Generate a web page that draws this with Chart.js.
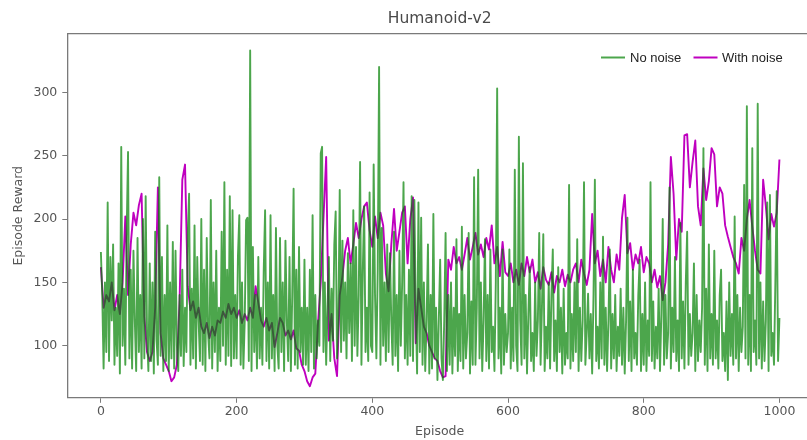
<!DOCTYPE html>
<html>
<head>
<meta charset="utf-8">
<script src="https://cdn.jsdelivr.net/npm/chart.js@4/dist/chart.umd.min.js"></script>
<style>
html,body{margin:0;padding:0;background:#fff;overflow:hidden}
#wrap{width:807px;height:440px;overflow:hidden;position:relative}
canvas{display:block}
</style>
</head>
<body>
<div id="wrap"><canvas id="c" width="812" height="440" style="width:812px;height:440px"></canvas></div>
<script>
// ---- data ----
const TITLE = 'Humanoid-v2';
const X_LABEL = 'Episode';
const Y_LABEL = 'Episode Reward';
const SERIES_NAMES = ['No noise', 'With noise'];
const NO_NOISE_STEP = 2;     // episodes between sampled points
const WITH_NOISE_STEP = 4;
const X_TICKS = [0, 200, 400, 600, 800, 1000];
const Y_TICKS = [100, 150, 200, 250, 300];

// No noise: one value every 2 episodes (0..1000)
const noNoise = [
  174,140,82,150,95,213,88,170,120,180,85,130,92,165,78,257,100,145,85,190,253,90,160,82,175,
  120,80,185,95,140,82,200,90,218,110,80,165,88,150,78,190,105,85,233,92,170,80,140,88,195,
  80,150,90,182,82,175,100,80,140,92,160,84,130,95,188,220,85,145,90,195,82,170,120,88,200,
  85,160,80,185,110,90,215,82,150,95,175,80,130,88,190,100,229,85,160,92,218,84,207,90,140,
  90,171,203,85,150,82,120,199,201,88,333,80,178,95,140,82,170,90,130,85,160,207,88,150,82,
  203,90,140,80,193,100,82,185,95,150,80,183,120,88,170,80,140,224,85,160,82,178,95,130,85,
  168,85,130,80,160,95,203,82,140,90,120,100,252,257,95,150,85,130,170,88,145,104,180,206,90,
  120,223,95,183,104,150,90,173,110,165,88,207,100,178,92,140,245,85,160,210,95,130,88,221,100,
  95,243,140,90,160,320,85,193,100,150,88,180,95,173,120,85,190,92,140,80,175,100,150,229,90,
  140,85,160,92,218,88,215,130,78,213,95,201,85,150,80,120,180,78,140,82,204,90,130,73,120,
  168,90,73,120,189,80,140,85,150,78,130,92,184,80,125,88,194,82,140,90,110,189,78,135,85,
  233,85,130,239,90,150,80,120,184,88,140,82,176,95,115,80,150,303,90,130,78,176,85,125,95,
  110,176,82,130,88,239,100,80,265,120,85,244,90,140,78,125,162,88,110,80,150,92,120,189,85,
  130,188,80,115,90,150,82,140,176,88,120,80,162,95,130,78,145,85,110,90,227,82,125,88,150,
  95,184,80,130,88,120,229,85,110,141,90,125,78,140,231,88,115,82,150,90,186,85,130,80,120,
  176,82,125,90,140,80,115,92,145,85,130,78,120,201,88,135,80,160,90,110,85,140,168,80,125,
  85,150,80,120,92,229,88,135,82,115,90,145,80,125,200,85,140,90,110,225,82,130,95,170,88,
  120,80,197,90,135,82,150,190,85,125,92,110,165,80,140,88,120,95,130,256,85,145,80,180,90,
  125,85,175,90,120,82,140,160,88,110,80,135,73,150,92,125,85,202,90,140,80,130,95,115,227,
  90,289,85,140,80,256,95,120,85,291,90,150,82,135,88,120,213,80,219,92,110,85,150,222,88,
  122
];

// With noise: one value every 4 episodes (0..1000)
const withNoise = [
  162,130,140,135,150,128,140,125,150,202,140,180,205,195,211,220,123,95,88,95,130,225,110,90,85,
  80,72,75,85,136,231,243,147,128,135,122,130,115,110,118,106,115,108,120,118,127,122,133,125,130,
  122,128,118,125,120,130,122,147,134,120,115,122,112,118,99,110,122,118,108,112,105,112,98,96,85,
  80,72,68,75,78,118,150,200,249,104,125,90,76,140,155,175,185,165,180,197,185,200,210,213,191,
  178,202,185,205,195,157,143,180,208,175,190,205,210,165,200,217,102,145,130,115,110,100,95,90,88,
  80,75,76,168,160,178,165,170,160,172,185,168,178,189,172,180,170,185,176,195,165,178,155,182,158,
  155,165,150,160,148,165,155,170,158,168,150,158,145,162,152,148,158,142,155,150,160,147,156,150,160,
  165,150,168,157,148,160,204,165,175,155,168,150,178,160,150,172,160,201,219,173,181,160,172,165,178,
  158,170,165,150,160,146,155,136,150,180,249,220,168,200,190,266,267,225,245,262,210,195,240,215,230,
  256,251,210,225,220,195,186,178,170,165,157,185,175,200,215,194,175,160,157,231,210,184,204,194,205,
  247
];

const noNoiseEpisodes = noNoise.map((_, i) => i * NO_NOISE_STEP);
const withNoiseEpisodes = withNoise.map((_, i) => i * WITH_NOISE_STEP);

// ---- styling ----
const GREEN = 'rgba(0,128,0,0.7)';
const MAGENTA = 'rgb(191,0,191)';
const AXIS_COLOR = '#7a7a7a';
const TEXT_COLOR = '#555555';
const FONT = 'DejaVu Sans';

const legendPlugin = {
  id: 'insideLegend',
  afterDraw(chart) {
    const ctx = chart.ctx;
    const items = [
      { x: 601, tx: 630 },
      { x: 693.5, tx: 722 }
    ];
    ctx.save();
    ctx.font = '13px "Liberation Sans", Arial, sans-serif';
    ctx.textBaseline = 'middle';
    ctx.textAlign = 'left';
    chart.data.datasets.forEach((ds, i) => {
      const it = items[i];
      const y = 57.5;
      ctx.strokeStyle = ds.borderColor;
      ctx.lineWidth = 2;
      ctx.beginPath();
      ctx.moveTo(it.x, y);
      ctx.lineTo(it.x + 24, y);
      ctx.stroke();
      ctx.fillStyle = '#222';
      ctx.fillText(ds.label, it.tx, y + 0.5);
    });
    ctx.restore();
  }
};

const tickFont = { family: FONT, size: 12.5 };

new Chart(document.getElementById('c'), {
  type: 'line',
  data: {
    datasets: [
      {
        label: SERIES_NAMES[0],
        data: noNoiseEpisodes.map((e, i) => ({ x: e, y: noNoise[i] })),
        borderColor: GREEN,
        backgroundColor: GREEN,
        borderWidth: 1.9,
        borderJoinStyle: 'round',
        pointRadius: 0,
        tension: 0,
        fill: false
      },
      {
        label: SERIES_NAMES[1],
        data: withNoiseEpisodes.map((e, i) => ({ x: e, y: withNoise[i] })),
        borderColor: MAGENTA,
        backgroundColor: MAGENTA,
        borderWidth: 1.9,
        borderJoinStyle: 'round',
        pointRadius: 0,
        tension: 0,
        fill: false
      }
    ]
  },
  options: {
    responsive: false,
    animation: false,
    devicePixelRatio: 1,
    layout: { padding: 0 },
    plugins: {
      legend: { display: false },
      title: { display: false },
      tooltip: { enabled: false }
    },
    scales: {
      x: {
        type: 'linear',
        position: 'bottom',
        min: -49.5,
        max: 1048,
        afterBuildTicks: s => { s.ticks = X_TICKS.map(v => ({ value: v })); },
        afterFit: s => { s.height = 42.2; },
        grid: { drawOnChartArea: false, tickLength: 5, tickColor: AXIS_COLOR, tickWidth: 1 },
        border: { color: AXIS_COLOR, width: 1.3 },
        ticks: { font: tickFont, color: TEXT_COLOR, padding: 1.5, maxRotation: 0, callback: v => String(v) },
        title: { display: true, text: X_LABEL, font: tickFont, color: TEXT_COLOR, padding: { top: 0, bottom: 0.5 } }
      },
      x2: {
        type: 'linear',
        position: 'top',
        display: true,
        min: -49.5,
        max: 1048,
        afterBuildTicks: s => { s.ticks = []; },
        afterFit: s => { s.height = 33.7; },
        grid: { drawOnChartArea: false, drawTicks: false },
        border: { color: AXIS_COLOR, width: 1.3 },
        ticks: { display: false },
        title: { display: true, text: TITLE, font: { family: FONT, size: 15.5 }, color: '#4a4a4a', padding: { top: 9.7, bottom: 0 } }
      },
      y: {
        type: 'linear',
        position: 'left',
        min: 58.9,
        max: 346.3,
        afterBuildTicks: s => { s.ticks = Y_TICKS.map(v => ({ value: v })); },
        afterFit: s => { s.width = 67.3; },
        grid: { drawOnChartArea: false, tickLength: 5, tickColor: AXIS_COLOR, tickWidth: 1 },
        border: { color: AXIS_COLOR, width: 1.3 },
        ticks: { font: tickFont, color: TEXT_COLOR, padding: 5, callback: v => String(v) },
        title: { display: true, text: Y_LABEL, font: tickFont, color: TEXT_COLOR, padding: { top: 11, bottom: 0 } }
      }
    }
  },
  plugins: [legendPlugin]
});
</script>
</body>
</html>
